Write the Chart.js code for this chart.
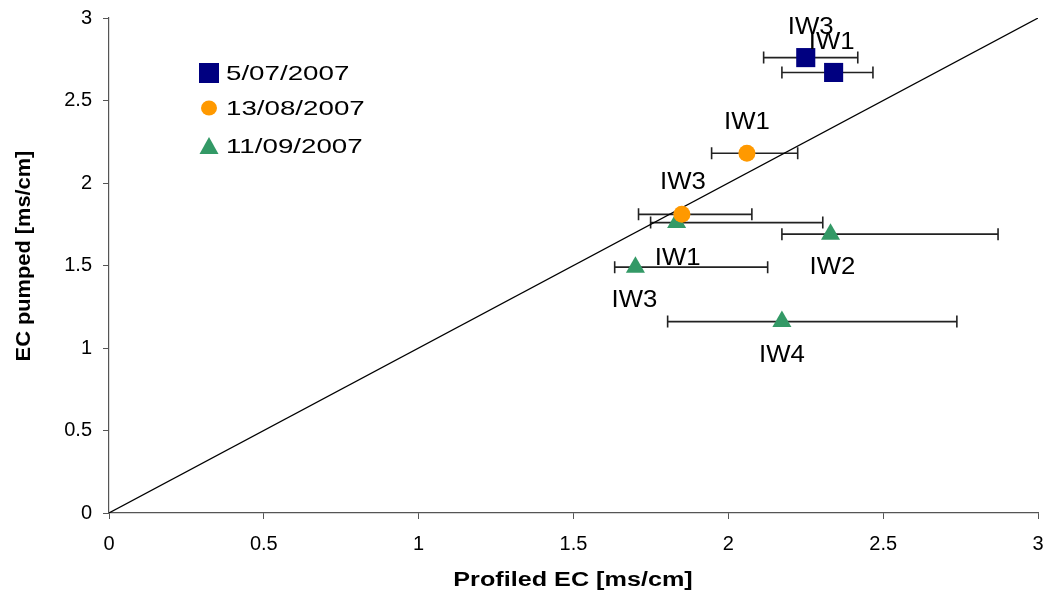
<!DOCTYPE html>
<html>
<head>
<meta charset="utf-8">
<script src="https://cdn.jsdelivr.net/npm/chart.js@4/dist/chart.umd.min.js"></script>
<style>
  html, body { margin: 0; padding: 0; background: #fff; }
  #wrap { width: 1046px; height: 591px; }
</style>
</head>
<body>
<div id="wrap"><canvas id="ecChart" width="1046" height="591"></canvas></div>
<script>
// EC survey dates
const dates = ["5/07/2007", "13/08/2007", "11/09/2007"];

// 5/07/2007
const julWells = ["IW3", "IW1"];
const julProfiled = [2.25, 2.34];
const julPumped = [2.76, 2.67];
const julMin = [2.114, 2.173];
const julMax = [2.418, 2.467];

// 13/08/2007
const augWells = ["IW1", "IW3"];
const augProfiled = [2.06, 1.85];
const augPumped = [2.18, 1.81];
const augMin = [1.946, 1.71];
const augMax = [2.224, 2.076];

// 11/09/2007
const sepWells = ["IW1", "IW2", "IW3", "IW4"];
const sepProfiled = [1.833, 2.33, 1.70, 2.173];
const sepPumped = [1.76, 1.69, 1.49, 1.16];
const sepMin = [1.749, 2.173, 1.633, 1.804];
const sepMax = [2.305, 2.871, 2.127, 2.738];

const axisTicks = [0, 0.5, 1, 1.5, 2, 2.5, 3];

// label offsets (px) from each marker
const julLabelOffset = [[5, -30], [-2, -30]];
const augLabelOffset = [[0, -31], [1, -32]];
const sepLabelOffset = [[1, 36], [2, 34], [-1, 34], [0, 34]];

const FONT = "'Liberation Sans', Arial, sans-serif";
const colors = ["#000080", "#FF9900", "#339966"];
const shapes = ["rect", "circle", "triangle"];
const radii = [13.5, 8.5, 11];

function pts(xs, ys) {
  return xs.map((x, i) => ({ x: x, y: ys[i] }));
}

// text drawn a little wider than the font's natural width
function wideText(ctx, text, x, y, sx) {
  ctx.save();
  ctx.translate(x, y);
  ctx.scale(sx, 1);
  ctx.fillText(text, 0, 0);
  ctx.restore();
}

const series = [
  { wells: julWells, xs: julProfiled, ys: julPumped, lo: julMin, hi: julMax, off: julLabelOffset },
  { wells: augWells, xs: augProfiled, ys: augPumped, lo: augMin, hi: augMax, off: augLabelOffset },
  { wells: sepWells, xs: sepProfiled, ys: sepPumped, lo: sepMin, hi: sepMax, off: sepLabelOffset }
];

const datasets = series.map((s, i) => ({
  type: "scatter",
  label: dates[i],
  data: pts(s.xs, s.ys),
  pointStyle: shapes[i],
  pointRadius: radii[i],
  pointHoverRadius: radii[i],
  backgroundColor: colors[i],
  borderColor: colors[i],
  borderWidth: 0,
  order: 1
}));

// 1:1 line
datasets.push({
  type: "line",
  label: "1:1",
  data: [{ x: 0, y: 0 }, { x: 3, y: 3 }],
  borderColor: "#000",
  borderWidth: 1.2,
  pointRadius: 0,
  order: 2
});

// horizontal error bars behind the markers
const errorBars = {
  id: "errorBars",
  beforeDatasetsDraw(chart) {
    const ctx = chart.ctx;
    const xs = chart.scales.x, ys = chart.scales.y;
    ctx.save();
    ctx.strokeStyle = "#222";
    ctx.lineWidth = 1.6;
    series.forEach(s => {
      s.xs.forEach((_, i) => {
        const y = ys.getPixelForValue(s.ys[i]);
        const x1 = xs.getPixelForValue(s.lo[i]);
        const x2 = xs.getPixelForValue(s.hi[i]);
        ctx.beginPath();
        ctx.moveTo(x1, y); ctx.lineTo(x2, y);
        ctx.moveTo(x1, y - 6); ctx.lineTo(x1, y + 6);
        ctx.moveTo(x2, y - 6); ctx.lineTo(x2, y + 6);
        ctx.stroke();
      });
    });
    ctx.restore();
  }
};

// well names next to the points
const wellLabels = {
  id: "wellLabels",
  afterDatasetsDraw(chart) {
    const ctx = chart.ctx;
    const xs = chart.scales.x, ys = chart.scales.y;
    ctx.save();
    ctx.fillStyle = "#000";
    ctx.font = "23px " + FONT;
    ctx.textAlign = "center";
    ctx.textBaseline = "middle";
    series.forEach(s => {
      s.wells.forEach((w, i) => {
        const x = xs.getPixelForValue(s.xs[i]) + s.off[i][0];
        const y = ys.getPixelForValue(s.ys[i]) + s.off[i][1];
        wideText(ctx, w, x, y, 1.12);
      });
    });
    ctx.restore();
  }
};

function drawMarker(ctx, shape, color, x, y) {
  ctx.fillStyle = color;
  ctx.beginPath();
  if (shape === "rect") {
    ctx.rect(x - 10, y - 10, 20, 20);
  } else if (shape === "circle") {
    ctx.ellipse(x, y, 8, 7.5, 0, 0, Math.PI * 2);
  } else {
    ctx.moveTo(x, y - 9);
    ctx.lineTo(x + 9.5, y + 8);
    ctx.lineTo(x - 9.5, y + 8);
    ctx.closePath();
  }
  ctx.fill();
}

// legend inside the plot area, axis titles
const overlay = {
  id: "overlay",
  afterDraw(chart) {
    const ctx = chart.ctx;
    const lx = 209, ly = [73, 108, 146];
    ctx.save();
    ctx.font = "21px " + FONT;
    ctx.textBaseline = "middle";
    ctx.textAlign = "left";
    dates.forEach((d, i) => {
      drawMarker(ctx, shapes[i], colors[i], lx, ly[i]);
      ctx.fillStyle = "#000";
      wideText(ctx, d, lx + 17, ly[i] + 1, 1.32);
    });

    ctx.fillStyle = "#000";
    ctx.textAlign = "center";
    ctx.font = "bold 20px " + FONT;
    wideText(ctx, "Profiled EC [ms/cm]", 573, 580, 1.26);

    ctx.save();
    ctx.translate(24, 256);
    ctx.rotate(-Math.PI / 2);
    ctx.font = "bold 20px " + FONT;
    wideText(ctx, "EC pumped [ms/cm]", 0, 0, 1.09);
    ctx.restore();
    ctx.restore();
  }
};

new Chart(document.getElementById("ecChart"), {
  data: { datasets: datasets },
  options: {
    responsive: false,
    animation: false,
    layout: { autoPadding: false, padding: { left: 0, right: 8, top: 18, bottom: 0 } },
    plugins: {
      legend: { display: false },
      tooltip: { enabled: false }
    },
    scales: {
      x: {
        type: "linear",
        min: 0, max: 3,
        afterBuildTicks(scale) { scale.ticks = axisTicks.map(v => ({ value: v })); },
        afterFit(scale) {
          scale.height = 78;
          scale.paddingLeft = 0;
          scale.paddingRight = 0;
        },
        border: { color: "#555", width: 1.2 },
        grid: { drawOnChartArea: false, tickLength: 6, color: "#555" },
        ticks: {
          color: "#000", font: { family: FONT, size: 20 }, padding: 13, maxRotation: 0,
          callback: v => String(v)
        }
      },
      y: {
        type: "linear",
        min: 0, max: 3,
        afterBuildTicks(scale) { scale.ticks = axisTicks.map(v => ({ value: v })); },
        afterFit(scale) {
          scale.width = 109;
          scale.paddingTop = 0;
          scale.paddingBottom = 0;
        },
        border: { color: "#555", width: 1.2 },
        grid: { drawOnChartArea: false, tickLength: 6, color: "#555" },
        ticks: {
          color: "#000", font: { family: FONT, size: 20 }, padding: 11,
          callback: v => String(v)
        }
      }
    }
  },
  plugins: [errorBars, wellLabels, overlay]
});
</script>
</body>
</html>
